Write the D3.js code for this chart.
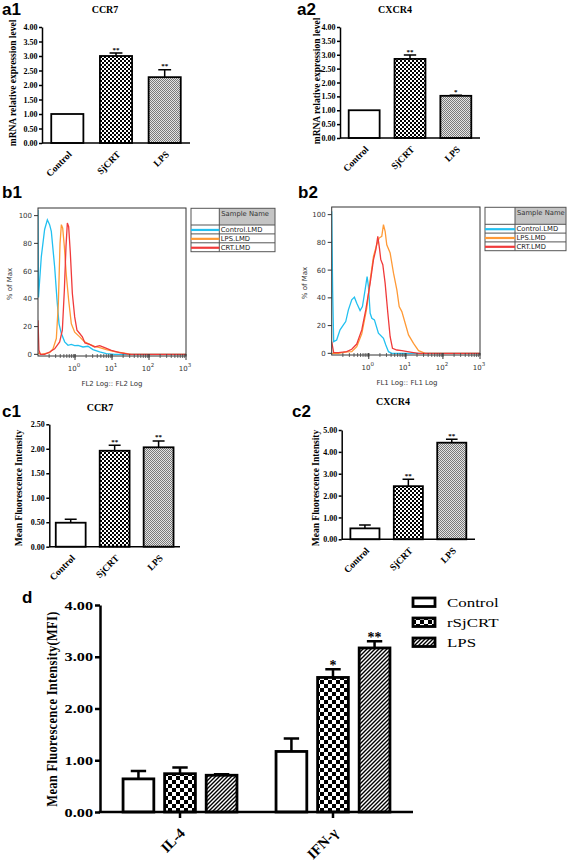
<!DOCTYPE html>
<html><head><meta charset="utf-8">
<script src="https://cdn.jsdelivr.net/npm/d3@7"></script>
<style>body{margin:0;background:#fff}svg{display:block}</style>
</head><body>
<svg id="fig" width="567" height="861"></svg>
<script>
// ---------- data ----------
const groups = ["Control", "SjCRT", "LPS"];
const a1Mean = [1.00, 3.00, 2.27];
const a1Err  = [0.00, 0.10, 0.26];
const a1Sig  = ["", "**", "**"];
const a2Mean = [1.00, 2.85, 1.52];
const a2Err  = [0.00, 0.14, 0.02];
const a2Sig  = ["", "**", "*"];
const c1Mean = [0.49, 1.96, 2.03];
const c1Err  = [0.07, 0.11, 0.13];
const c1Sig  = ["", "**", "**"];
const c2Mean = [0.50, 2.43, 4.42];
const c2Err  = [0.15, 0.32, 0.16];
const c2Sig  = ["", "**", "**"];
const aTicks  = [0, 0.5, 1, 1.5, 2, 2.5, 3, 3.5, 4];
const c1Ticks = [0, 0.5, 1, 1.5, 2, 2.5];
const c2Ticks = [0, 1, 2, 3, 4, 5];

const flowSamples = ["Control.LMD", "LPS.LMD", "CRT.LMD"];
const flowColors = ["#22c0f0", "#ff9a36", "#f03a3a"];
const flowPctTicks = [0, 20, 40, 60, 80, 100];
const flowDecades = [0, 1, 2, 3];
// [fluorescence intensity, % of max]
const b1Control = [[0.100,104],[0.103,41],[0.123,70.5],[0.151,90],[0.179,97],[0.206,93.5],[0.229,88.6],[0.282,63],[0.327,39],[0.370,22],[0.428,15],[0.526,9],[0.647,6.5],[0.796,7.2],[0.98,6.3],[1.21,6.5],[1.64,5.3],[2.24,5.8],[3.06,3.4],[4.64,1.7],[7.03,0.5],[11.8,0],[1000,0]];
const b1LPS = [[0.100,1],[0.123,0],[0.206,1.2],[0.254,3.9],[0.313,11.4],[0.355,36.7],[0.394,80],[0.428,93.5],[0.465,91],[0.515,77.8],[0.583,57],[0.674,39],[0.796,22],[0.98,16],[1.34,12.6],[1.82,9],[2.49,7.2],[3.40,5.8],[4.65,4.8],[7.03,3.4],[11.8,1.9],[19.8,1],[33.3,0],[1000,0]];
const b1CRT = [[0.100,24.6],[0.106,3],[0.116,0],[0.151,0],[0.206,1.7],[0.282,4],[0.385,9],[0.455,17.4],[0.515,46],[0.571,77.8],[0.621,94.7],[0.674,92],[0.748,73],[0.847,44],[0.98,27],[1.13,17.4],[1.34,15],[1.58,12.6],[1.86,8.2],[2.49,7.2],[3.40,5.3],[4.65,6.3],[6.34,4.8],[9.6,2.9],[16.1,1.2],[30,0],[1000,0]];
const b2Control = [[0.100,102.4],[0.106,45.8],[0.113,8.4],[0.136,9.6],[0.168,16.9],[0.207,20.5],[0.239,22.9],[0.282,31.3],[0.347,38.6],[0.410,40.5],[0.474,36.1],[0.583,30.8],[0.674,33.7],[0.796,45.8],[0.902,55.4],[0.98,48.2],[1.09,28.9],[1.21,25.3],[1.42,24.1],[1.82,14.5],[2.49,10.8],[2.88,6],[3.40,1.2],[4.19,0],[1000,0]];
const b2LPS = [[0.100,0],[0.151,0],[0.254,1],[0.347,1.2],[0.474,4.8],[0.647,14],[0.883,32.5],[1.09,53],[1.34,69.9],[1.64,78.3],[1.90,83.1],[2.24,84.3],[2.49,92.8],[2.76,88],[3.06,78.3],[3.77,72.3],[4.65,57.8],[5.72,45.8],[6.61,33.7],[7.8,30.1],[9.6,21.7],[11.8,13.3],[16.1,7.2],[22,1.9],[33.3,0],[1000,0]];
const b2CRT = [[0.100,8.4],[0.113,0.5],[0.151,0.5],[0.254,1.2],[0.347,2.9],[0.474,6.7],[0.647,16.9],[0.83,31.3],[1.09,50.6],[1.34,67.5],[1.55,74.7],[1.75,84.3],[1.94,75.9],[2.11,67.5],[2.39,63.9],[2.76,50.6],[3.27,28.9],[3.77,12],[4.36,3.6],[5.72,2.4],[7.8,1.9],[14.5,0.7],[22,0],[1000,0]];

const dCats = ["IL-4", "IFN-γ"];
const dSeries = ["Control", "rSjCRT", "LPS"];
const dControlMean = [0.64, 1.17];
const dControlErr  = [0.15, 0.25];
const dControlSig  = ["", ""];
const dRSjCRTMean  = [0.74, 2.60];
const dRSjCRTErr   = [0.12, 0.16];
const dRSjCRTSig   = ["", "*"];
const dLPSMean     = [0.71, 3.17];
const dLPSErr      = [0.02, 0.13];
const dLPSSig      = ["", "**"];
const dTicks = [0, 1, 2, 3, 4];

// ---------- setup ----------
const SERIF = "'Liberation Serif','Times New Roman',serif";
const SANS = "'Liberation Sans',Arial,sans-serif";
const FLOW = "'DejaVu Sans',Verdana,sans-serif";
const svg = d3.select("#fig");
svg.append("rect").attr("width", 567).attr("height", 861).attr("fill", "#fff");
const defs = svg.append("defs");

function pat(id, w, h, build, tf) {
  const p = defs.append("pattern").attr("id", id).attr("patternUnits", "userSpaceOnUse")
    .attr("width", w).attr("height", h);
  if (tf) p.attr("patternTransform", tf);
  build(p);
}
pat("chkS", 4, 4, p => {
  p.append("rect").attr("width", 4).attr("height", 4).attr("fill", "#fff");
  p.append("rect").attr("width", 2).attr("height", 2).attr("fill", "#000");
  p.append("rect").attr("x", 2).attr("y", 2).attr("width", 2).attr("height", 2).attr("fill", "#000");
});
pat("stip", 2, 2, p => {
  p.append("rect").attr("width", 2).attr("height", 2).attr("fill", "#e4e4e4");
  p.append("rect").attr("width", 1).attr("height", 1).attr("fill", "#7a7a7a");
  p.append("rect").attr("x", 1).attr("y", 1).attr("width", 1).attr("height", 1).attr("fill", "#7a7a7a");
});
pat("chkL", 8, 8, p => {
  p.append("rect").attr("width", 8).attr("height", 8).attr("fill", "#fff");
  p.append("rect").attr("width", 4).attr("height", 4).attr("fill", "#000");
  p.append("rect").attr("x", 4).attr("y", 4).attr("width", 4).attr("height", 4).attr("fill", "#000");
});
pat("hatch", 4, 4, p => {
  p.append("rect").attr("width", 4).attr("height", 4).attr("fill", "#fff");
  p.append("path").attr("d", "M-1,1L1,-1M0,4L4,0M3,5L5,3").attr("stroke", "#000").attr("stroke-width", 1.4);
});

function panelLabel(t, x, y) {
  svg.append("text").attr("x", x).attr("y", y).attr("font-family", SANS).attr("font-weight", "bold")
    .attr("font-size", 17).text(t);
}

// ---------- bar panels (a, c) ----------
function barPanel(c) {
  const g = svg.append("g");
  const x = d3.scaleBand().domain(groups).range([c.x0, c.x1]).paddingInner(c.pi).paddingOuter(c.po);
  const y = d3.scaleLinear().domain([0, c.max]).range([c.yb, c.yt]);
  const fills = ["#fff", "url(#chkS)", "url(#stip)"];
  const data = groups.map((k, i) => ({ k, m: c.mean[i], e: c.err[i], s: c.sig[i], f: fills[i] }));
  const bw = x.bandwidth();
  g.selectAll("rect.bar").data(data).join("rect").attr("class", "bar")
    .attr("x", d => x(d.k)).attr("y", d => y(d.m)).attr("width", bw)
    .attr("height", d => y(0) - y(d.m)).attr("fill", d => d.f)
    .attr("stroke", "#000").attr("stroke-width", 1.8);
  const cw = bw * 0.2;
  data.filter(d => d.e > 0).forEach(d => {
    const cx = x(d.k) + bw / 2, yt = y(d.m + d.e);
    g.append("path").attr("d", `M${cx},${y(d.m)}V${yt}M${cx - cw},${yt}H${cx + cw}`)
      .attr("stroke", "#000").attr("stroke-width", 1.5).attr("fill", "none");
  });
  g.selectAll("text.sig").data(data.filter(d => d.s)).join("text").attr("class", "sig")
    .attr("x", d => x(d.k) + bw / 2).attr("y", d => y(d.m + d.e) - 1.5)
    .attr("text-anchor", "middle").attr("font-family", SERIF).attr("font-weight", "bold")
    .attr("font-size", 7).text(d => d.s);
  const ax = g.append("g").attr("transform", `translate(${c.x0},0)`)
    .call(d3.axisLeft(y).tickValues(c.ticks).tickFormat(d3.format(".2f")).tickSize(3).tickSizeOuter(0).tickPadding(1.5));
  ax.selectAll("path,line").attr("stroke", "#000").attr("stroke-width", 1.5);
  ax.selectAll("text").attr("font-family", SERIF).attr("font-weight", "bold").attr("font-size", 8).attr("fill", "#000");
  g.append("line").attr("x1", c.x0).attr("x2", c.x1).attr("y1", y(0)).attr("y2", y(0))
    .attr("stroke", "#000").attr("stroke-width", 1.5);
  g.selectAll("text.xl").data(data).join("text").attr("class", "xl")
    .attr("transform", d => `translate(${x(d.k) + bw / 2 + 5},${y(0) + 12}) rotate(-45)`)
    .attr("text-anchor", "end").attr("font-family", SERIF).attr("font-weight", "bold")
    .attr("font-size", 9.5).text(d => d.k);
  g.append("text").attr("x", c.tx).attr("y", c.ty).attr("text-anchor", "middle")
    .attr("font-family", SERIF).attr("font-weight", "bold").attr("font-size", 10).text(c.title);
  g.append("text").attr("transform", `translate(${c.lx},${c.ly}) rotate(-90)`).attr("text-anchor", "middle")
    .attr("font-family", SERIF).attr("font-weight", "bold").attr("font-size", 9.5).text(c.ylabel);
}

barPanel({ x0: 42, x1: 190, yt: 27, yb: 143, max: 4, pi: 0.34, po: 0.19, ticks: aTicks,
  mean: a1Mean, err: a1Err, sig: a1Sig, title: "CCR7", tx: 105, ty: 13,
  ylabel: "mRNA relative expression level", lx: 16, ly: 83 });
barPanel({ x0: 340, x1: 480, yt: 27, yb: 138, max: 4, pi: 0.325, po: 0.19, ticks: aTicks,
  mean: a2Mean, err: a2Err, sig: a2Sig, title: "CXCR4", tx: 395, ty: 13,
  ylabel: "mRNA relative expression level", lx: 320, ly: 81 });
barPanel({ x0: 49.3, x1: 180, yt: 424.3, yb: 546.7, max: 2.5, pi: 0.32, po: 0.147, ticks: c1Ticks,
  mean: c1Mean, err: c1Err, sig: c1Sig, title: "CCR7", tx: 100, ty: 411,
  ylabel: "Mean Fluorescence Intensity", lx: 22, ly: 488 });
barPanel({ x0: 341.7, x1: 475, yt: 430, yb: 539.3, max: 5, pi: 0.33, po: 0.2, ticks: c2Ticks,
  mean: c2Mean, err: c2Err, sig: c2Sig, title: "CXCR4", tx: 393, ty: 405,
  ylabel: "Mean Fluorescence Intensity", lx: 319, ly: 488 });

// ---------- flow histograms (b) ----------
function flowPanel(c) {
  const g = svg.append("g");
  const x = d3.scaleLog().domain([0.1, 1000]).range([c.x0, c.x1]);
  const y = d3.scaleLinear().domain([-1.2, 105.5]).range([c.yb, c.yt]);
  const clipId = "clip" + c.id;
  defs.append("clipPath").attr("id", clipId).append("rect")
    .attr("x", c.x0).attr("y", c.yt).attr("width", c.x1 - c.x0).attr("height", c.yb - c.yt);
  const line = d3.line().x(d => x(d[0])).y(d => y(d[1]));
  g.append("g").attr("clip-path", `url(#${clipId})`).selectAll("path").data(c.curves).join("path")
    .attr("d", line).attr("fill", "none").attr("stroke", (d, i) => flowColors[i]).attr("stroke-width", 1.3);
  g.append("rect").attr("x", c.x0).attr("y", c.yt).attr("width", c.x1 - c.x0).attr("height", c.yb - c.yt)
    .attr("fill", "none").attr("stroke", "#333").attr("stroke-width", 1);
  // y ticks
  flowPctTicks.forEach(v => {
    g.append("line").attr("x1", c.x0 - 4).attr("x2", c.x0).attr("y1", y(v)).attr("y2", y(v)).attr("stroke", "#333");
    g.append("text").attr("x", c.x0 - 6).attr("y", y(v)).attr("dy", "0.35em").attr("text-anchor", "end")
      .attr("font-family", FLOW).attr("font-size", 7).attr("fill", "#333").text(v);
  });
  // x ticks (log)
  for (let k = -1; k < 3; k++) {
    for (let m = 1; m < 10; m++) {
      const v = m * Math.pow(10, k);
      if (v <= 0.1) continue;
      g.append("line").attr("x1", x(v)).attr("x2", x(v)).attr("y1", c.yb - 2).attr("y2", c.yb + 2)
        .attr("stroke", "#444").attr("stroke-width", 0.8);
    }
  }
  flowDecades.forEach(k => {
    const xx = x(Math.pow(10, k));
    g.append("line").attr("x1", xx).attr("x2", xx).attr("y1", c.yb - 2).attr("y2", c.yb + 4).attr("stroke", "#333");
    const t = g.append("text").attr("x", xx - 1).attr("y", c.yb + 15).attr("text-anchor", "middle")
      .attr("font-family", FLOW).attr("font-size", 7).attr("fill", "#333");
    t.append("tspan").text("10");
    t.append("tspan").attr("dy", -4).attr("font-size", 5.5).text(k);
  });
  g.append("text").attr("x", c.xtx).attr("y", c.yb + 30).attr("text-anchor", "middle")
    .attr("font-family", FLOW).attr("font-size", 7).attr("fill", "#333").text(c.xtitle);
  g.append("text").attr("transform", `translate(${c.ylx},${(c.yt + c.yb) / 2 + 2}) rotate(-90)`)
    .attr("text-anchor", "middle").attr("font-family", FLOW).attr("font-size", 7).attr("fill", "#333").text("% of Max");
  // legend table
  const L = c.leg;
  const rowH = (L.yb - L.yh) / flowSamples.length;
  g.append("rect").attr("x", L.xd).attr("y", L.y0).attr("width", L.x1 - L.xd).attr("height", L.yh - L.y0).attr("fill", "#c4c4c4");
  g.append("rect").attr("x", L.x0).attr("y", L.y0).attr("width", L.x1 - L.x0).attr("height", L.yb - L.y0)
    .attr("fill", "none").attr("stroke", "#555").attr("stroke-width", 1);
  g.append("line").attr("x1", L.xd).attr("x2", L.xd).attr("y1", L.y0).attr("y2", L.yb).attr("stroke", "#555");
  g.append("text").attr("x", L.xd + 2).attr("y", L.y0 + 7.5).attr("font-family", FLOW).attr("font-size", 6.8)
    .attr("fill", "#333").text("Sample Name");
  flowSamples.forEach((s, i) => {
    const ry = L.yh + i * rowH;
    g.append("line").attr("x1", L.x0).attr("x2", L.x1).attr("y1", ry).attr("y2", ry).attr("stroke", "#555");
    g.append("line").attr("x1", L.x0).attr("x2", L.xd).attr("y1", ry + rowH / 2 + 0.5).attr("y2", ry + rowH / 2 + 0.5)
      .attr("stroke", flowColors[i]).attr("stroke-width", 2.2);
    g.append("text").attr("x", L.xd + 1.5).attr("y", ry + rowH - 1.8).attr("font-family", FLOW).attr("font-size", 6.8)
      .attr("fill", "#222").text(s);
  });
}
flowPanel({ id: "b1", x0: 38, x1: 186, yt: 208, yb: 356, curves: [b1Control, b1LPS, b1CRT],
  xtitle: "FL2 Log:: FL2 Log", xtx: 112, ylx: 12,
  leg: { x0: 191, xd: 219.3, x1: 275, y0: 208.3, yh: 225, yb: 251.7 } });
flowPanel({ id: "b2", x0: 331.7, x1: 480, yt: 207, yb: 355, curves: [b2Control, b2LPS, b2CRT],
  xtitle: "FL1 Log:: FL1 Log", xtx: 407, ylx: 307,
  leg: { x0: 485, xd: 515, x1: 566, y0: 207.3, yh: 224.3, yb: 250.7 } });

// ---------- panel d ----------
(function () {
  const g = svg.append("g");
  const x0 = d3.scaleBand().domain(dCats).range([100, 413]).paddingInner(0).paddingOuter(0.023);
  const x1 = d3.scaleBand().domain(dSeries).range([0, x0.bandwidth()]).paddingInner(0.26).paddingOuter(0.47);
  const y = d3.scaleLinear().domain([0, 4]).range([812, 605]);
  const fills = ["#fff", "url(#chkL)", "url(#hatch)"];
  const means = [dControlMean, dRSjCRTMean, dLPSMean];
  const errs = [dControlErr, dRSjCRTErr, dLPSErr];
  const sigs = [dControlSig, dRSjCRTSig, dLPSSig];
  const rows = [];
  dCats.forEach((cat, ci) => dSeries.forEach((s, si) => rows.push({
    cat, s, si, m: means[si][ci], e: errs[si][ci], sig: sigs[si][ci] })));
  const bw = x1.bandwidth();
  const bx = d => x0(d.cat) + x1(d.s);
  g.selectAll("rect.bar").data(rows).join("rect").attr("class", "bar")
    .attr("x", bx).attr("y", d => y(d.m)).attr("width", bw).attr("height", d => y(0) - y(d.m))
    .attr("fill", d => fills[d.si]).attr("stroke", "#000").attr("stroke-width", 2.8);
  const cw = bw * 0.25;
  rows.forEach(d => {
    const cx = bx(d) + bw / 2, yt = y(d.m + d.e);
    g.append("path").attr("d", `M${cx},${y(d.m)}V${yt}M${cx - cw},${yt}H${cx + cw}`)
      .attr("stroke", "#000").attr("stroke-width", 2.5).attr("fill", "none");
    if (d.sig) g.append("text").attr("x", cx).attr("y", yt + 0.5).attr("text-anchor", "middle")
      .attr("font-family", SERIF).attr("font-weight", "bold").attr("font-size", 14).text(d.sig);
  });
  const ax = g.append("g").attr("transform", "translate(100,0)")
    .call(d3.axisLeft(y).tickValues(dTicks).tickFormat(d3.format(".2f")).tickSize(5).tickSizeOuter(0).tickPadding(2));
  ax.selectAll("path,line").attr("stroke", "#000").attr("stroke-width", 2.5);
  ax.selectAll("text").attr("font-family", SERIF).attr("font-weight", "bold").attr("font-size", 12.5)
    .attr("fill", "#000").attr("x", -7 / 1.3).attr("transform", "scale(1.3,1)");
  const xa = g.append("g").attr("transform", `translate(0,${y(0)})`)
    .call(d3.axisBottom(x0).tickSize(6).tickSizeOuter(0).tickFormat(""));
  xa.select("path").attr("d", "M98.75,0H413");
  xa.selectAll("path,line").attr("stroke", "#000").attr("stroke-width", 2.5);
  g.selectAll("text.xl").data(dCats).join("text").attr("class", "xl")
    .attr("transform", d => `translate(${x0(d) + x0.bandwidth() / 2 + 6},${y(0) + 22}) rotate(-45)`)
    .attr("text-anchor", "end").attr("font-family", SERIF).attr("font-weight", "bold")
    .attr("font-size", 14.5).text(d => d);
  g.append("text").attr("transform", "translate(57,709) rotate(-90) scale(1,1.2)").attr("text-anchor", "middle")
    .attr("font-family", SERIF).attr("font-weight", "bold").attr("font-size", 12.5)
    .attr("letter-spacing", 0.3).text("Mean Fluorescence Intensity(MFI)");
  // legend
  dSeries.forEach((s, i) => {
    const ly = 598 + i * 20;
    g.append("rect").attr("x", 413).attr("y", ly).attr("width", 22).attr("height", 8.5)
      .attr("fill", fills[i]).attr("stroke", "#000").attr("stroke-width", 2.8);
    g.append("text").attr("transform", `translate(447,${ly + 9}) scale(1.3,1)`)
      .attr("font-family", SERIF).attr("font-size", 13).text(s);
  });
})();

panelLabel("a1", 2, 15);
panelLabel("a2", 297, 15);
panelLabel("b1", 2, 198);
panelLabel("b2", 298, 198);
panelLabel("c1", 2, 417);
panelLabel("c2", 292, 417);
panelLabel("d", 22, 603);
</script>
</body></html>
